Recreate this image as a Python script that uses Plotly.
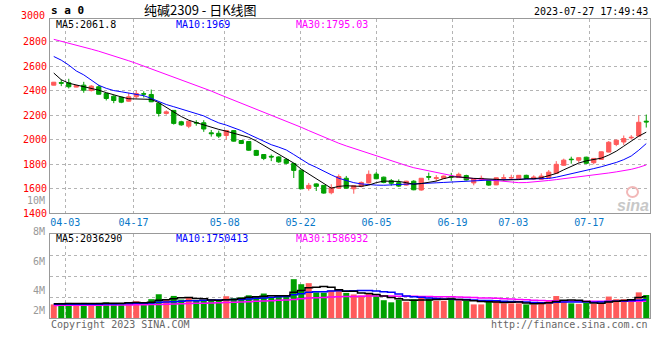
import plotly.graph_objects as go

# ---------------- data ----------------
dates = ["03-30", "03-31", "04-03", "04-04", "04-06", "04-07",
         "04-10", "04-11", "04-12", "04-13", "04-14",
         "04-17", "04-18", "04-19", "04-20", "04-21",
         "04-24", "04-25", "04-26", "04-27", "04-28",
         "05-04", "05-05",
         "05-08", "05-09", "05-10", "05-11", "05-12",
         "05-15", "05-16", "05-17", "05-18", "05-19",
         "05-22", "05-23", "05-24", "05-25", "05-26",
         "05-29", "05-30", "05-31", "06-01", "06-02",
         "06-05", "06-06", "06-07", "06-08", "06-09",
         "06-12", "06-13", "06-14", "06-15", "06-16",
         "06-19", "06-20", "06-21",
         "06-26", "06-27", "06-28", "06-29", "06-30",
         "07-03", "07-04", "07-05", "07-06", "07-07",
         "07-10", "07-11", "07-12", "07-13", "07-14",
         "07-17", "07-18", "07-19", "07-20", "07-21",
         "07-24", "07-25", "07-26", "07-27"]

opens = [2446, 2467, 2465, 2430, 2446, 2402, 2433, 2378, 2356, 2348,
         2315, 2351, 2376, 2370, 2299, 2215, 2240, 2147, 2111, 2141,
         2139, 2057, 2053, 2035, 2075, 1994, 1986, 1913, 1880, 1865,
         1860, 1840, 1807, 1752, 1603, 1640, 1628, 1568, 1605, 1686,
         1600, 1620, 1648, 1720, 1695, 1666, 1650, 1630, 1662, 1590,
         1700, 1685, 1685, 1702, 1692, 1708, 1648, 1680, 1668, 1632,
         1686, 1688, 1682, 1710, 1680, 1678, 1692, 1726, 1792, 1842,
         1833, 1858, 1813, 1840, 1900, 1962, 1982, 2016, 2030, 2152]
highs = [2472, 2492, 2498, 2447, 2473, 2446, 2449, 2382, 2364, 2352,
         2384, 2402, 2396, 2410, 2300, 2240, 2242, 2155, 2155, 2160,
         2160, 2080, 2075, 2078, 2078, 1998, 1990, 1918, 1884, 1880,
         1866, 1850, 1810, 1752, 1648, 1645, 1630, 1637, 1718, 1705,
         1630, 1660, 1750, 1737, 1700, 1680, 1677, 1665, 1670, 1688,
         1732, 1712, 1708, 1730, 1732, 1715, 1688, 1708, 1672, 1692,
         1718, 1715, 1712, 1715, 1710, 1726, 1753, 1826, 1846, 1862,
         1856, 1862, 1850, 1905, 1990, 2000, 2035, 2038, 2198, 2206]
lows = [2444, 2438, 2419, 2428, 2384, 2394, 2370, 2321, 2299, 2299,
        2312, 2337, 2345, 2308, 2190, 2205, 2124, 2115, 2095, 2115,
        2065, 2026, 2015, 2002, 1985, 1965, 1910, 1868, 1834, 1826,
        1812, 1800, 1688, 1598, 1585, 1582, 1560, 1555, 1600, 1602,
        1560, 1612, 1645, 1678, 1645, 1625, 1615, 1625, 1588, 1585,
        1670, 1660, 1680, 1665, 1688, 1668, 1628, 1665, 1625, 1630,
        1665, 1672, 1680, 1680, 1678, 1676, 1690, 1722, 1788, 1805,
        1813, 1805, 1800, 1838, 1898, 1948, 1958, 2002, 2028, 2100]
closes = [2470, 2462, 2433, 2443, 2405, 2438, 2372, 2337, 2321, 2307,
          2351, 2378, 2373, 2310, 2215, 2228, 2134, 2122, 2152, 2137,
          2088, 2050, 2030, 2076, 1989, 1970, 1915, 1873, 1848, 1860,
          1820, 1808, 1750, 1600, 1628, 1620, 1565, 1610, 1700, 1605,
          1625, 1652, 1718, 1682, 1652, 1645, 1622, 1662, 1592, 1686,
          1695, 1690, 1704, 1697, 1718, 1672, 1684, 1685, 1630, 1690,
          1690, 1692, 1710, 1685, 1696, 1704, 1736, 1800, 1834, 1838,
          1854, 1808, 1848, 1902, 1980, 1997, 2010, 2020, 2143, 2146]

ma5 = [2545, 2490, 2462, 2448, 2438, 2425, 2405, 2385, 2365, 2350,
       2335, 2333, 2334, 2330, 2303, 2262, 2227, 2190, 2160, 2140,
       2120, 2100, 2085, 2070, 2055, 2040, 2020, 1990, 1955, 1920,
       1880, 1850, 1810, 1760, 1720, 1680, 1640, 1605, 1620, 1625,
       1622, 1620, 1630, 1650, 1663, 1663, 1660, 1650, 1637, 1643,
       1650, 1663, 1683, 1697, 1697, 1690, 1685, 1683, 1677, 1677,
       1672, 1672, 1675, 1682, 1682, 1690, 1705, 1725, 1755, 1780,
       1810, 1828, 1838, 1850, 1875, 1907, 1948, 1990, 2030, 2062]
ma10 = [2680, 2650, 2610, 2562, 2530, 2490, 2445, 2420, 2402, 2392,
        2383, 2375, 2360, 2338, 2312, 2288, 2270, 2252, 2233, 2215,
        2195, 2165, 2138, 2120, 2100, 2075, 2045, 2015, 1988, 1960,
        1940, 1917, 1880, 1838, 1803, 1775, 1743, 1714, 1686, 1665,
        1650, 1640, 1632, 1630, 1629, 1630, 1634, 1638, 1640, 1645,
        1647, 1649, 1652, 1656, 1660, 1663, 1666, 1669, 1671, 1673,
        1674, 1675, 1676, 1677, 1677, 1678, 1684, 1695, 1708, 1722,
        1738, 1752, 1765, 1780, 1797, 1815, 1838, 1868, 1915, 1969]
ma30 = [2820, 2805, 2789, 2773, 2757, 2740, 2723, 2705, 2686, 2665,
        2645, 2624, 2602, 2579, 2555, 2532, 2510, 2489, 2468, 2447,
        2425, 2398, 2372, 2348, 2324, 2300, 2276, 2250, 2225, 2200,
        2177, 2153, 2128, 2102, 2075, 2048, 2020, 1995, 1972, 1950,
        1930, 1910, 1888, 1866, 1845, 1830, 1808, 1790, 1772, 1760,
        1745, 1735, 1718, 1706, 1696, 1689, 1683, 1677, 1670, 1664,
        1658, 1653, 1650, 1651, 1655, 1660, 1668, 1675, 1682, 1689,
        1696, 1704, 1712, 1721, 1729, 1738, 1748, 1759, 1775, 1795]

# volume, in millions of lots
volumes = [1.30, 1.44, 1.44, 1.28, 1.44, 1.28, 1.44, 1.50, 1.42, 1.42,
           1.50, 1.60, 1.28, 1.80, 2.27, 1.76, 2.11, 1.76, 1.95, 1.70,
           1.63, 1.63, 1.73, 2.08, 1.89, 1.98, 2.17, 2.08, 2.34, 2.01,
           2.01, 2.17, 3.71, 3.23, 3.33, 2.45, 2.42, 2.66, 2.75, 2.40,
           2.25, 2.15, 2.30, 2.10, 1.70, 1.50, 1.75, 1.55, 1.80, 2.00,
           1.85, 1.65, 1.65, 1.95, 1.70, 1.65, 1.30, 1.30, 1.70, 1.65,
           1.40, 1.40, 1.40, 1.30, 1.30, 1.50, 1.70, 2.10, 1.60, 1.40,
           1.35, 1.45, 1.35, 1.40, 2.05, 1.80, 1.80, 1.65, 2.45, 2.20]
vol_ma5 = [1.36, 1.37, 1.38, 1.38, 1.38, 1.38, 1.38, 1.40, 1.42, 1.42,
           1.45, 1.49, 1.46, 1.50, 1.69, 1.74, 1.84, 1.94, 1.97, 1.86,
           1.83, 1.73, 1.69, 1.75, 1.77, 1.86, 1.98, 2.04, 2.09, 2.12,
           2.12, 2.12, 2.45, 2.63, 2.89, 2.95, 3.00, 2.95, 2.70, 2.55,
           2.55, 2.40, 2.35, 2.25, 2.10, 1.95, 1.85, 1.72, 1.70, 1.72,
           1.72, 1.78, 1.80, 1.82, 1.78, 1.72, 1.65, 1.58, 1.55, 1.52,
           1.48, 1.50, 1.52, 1.43, 1.37, 1.38, 1.45, 1.58, 1.70, 1.72,
           1.70, 1.58, 1.43, 1.40, 1.52, 1.60, 1.68, 1.75, 1.95, 2.04]
vol_ma10 = [1.32, 1.32, 1.32, 1.32, 1.32, 1.32, 1.32, 1.33, 1.34, 1.36,
            1.38, 1.40, 1.41, 1.44, 1.50, 1.52, 1.56, 1.60, 1.64, 1.66,
            1.70, 1.72, 1.72, 1.74, 1.76, 1.78, 1.82, 1.88, 1.92, 1.98,
            2.02, 2.06, 2.22, 2.32, 2.46, 2.50, 2.52, 2.58, 2.60, 2.58,
            2.60, 2.62, 2.62, 2.58, 2.52, 2.45, 2.30, 2.10, 2.02, 1.98,
            1.92, 1.86, 1.82, 1.80, 1.78, 1.76, 1.72, 1.68, 1.68, 1.66,
            1.60, 1.58, 1.55, 1.52, 1.48, 1.45, 1.46, 1.50, 1.52, 1.52,
            1.52, 1.52, 1.51, 1.52, 1.58, 1.60, 1.62, 1.65, 1.70, 1.75]
vol_ma30 = [1.20, 1.21, 1.21, 1.22, 1.22, 1.23, 1.23, 1.24, 1.24, 1.25,
            1.25, 1.26, 1.27, 1.28, 1.30, 1.32, 1.34, 1.36, 1.38, 1.40,
            1.42, 1.44, 1.46, 1.48, 1.50, 1.53, 1.56, 1.59, 1.62, 1.66,
            1.70, 1.73, 1.78, 1.84, 1.90, 1.94, 1.97, 2.00, 2.03, 2.05,
            2.06, 2.08, 2.10, 2.10, 2.10, 2.10, 2.09, 2.08, 2.07, 2.06,
            2.05, 2.04, 2.03, 2.02, 2.00, 1.98, 1.95, 1.92, 1.90, 1.88,
            1.85, 1.82, 1.78, 1.74, 1.70, 1.68, 1.66, 1.65, 1.64, 1.63,
            1.62, 1.61, 1.60, 1.59, 1.59, 1.59, 1.59, 1.59, 1.59, 1.59]

tick_dates = ["04-03", "04-17", "05-08", "05-22", "06-05", "06-19", "07-03", "07-17"]
price_ticks = [1400, 1600, 1800, 2000, 2200, 2400, 2600, 2800]
vol_ticks = [2, 4, 6]

title_text = "纯碱2309 - 日K线图"
symbol_text = "s a 0"
time_text = "2023-07-27 17:49:43"
ma_labels = ["MA5:2061.8", "MA10:1969", "MA30:1795.03"]
vol_ma_labels = ["MA5:2036290", "MA10:1750413", "MA30:1586932"]
vol_axis_labels = ["8M", "6M", "4M", "2M"]

# ---------------- styling ----------------
RED = "#ff5a5a"
GREEN = "#00a000"
MONO = "DejaVu Sans Mono"
GRID = "#b4b4b4"
BORDER = "#999999"

W, H = 660, 360
PLOT_X0, PLOT_X1 = 50, 650      # pixels of the plotting area
PLOT_Y0, PLOT_Y1 = 19, 318
L, T = PLOT_X0, PLOT_Y0
R, B = W - PLOT_X1, H - PLOT_Y1
PW, PH = PLOT_X1 - PLOT_X0, PLOT_Y1 - PLOT_Y0


def px(x):
    return (x - PLOT_X0) / PW


def py(y):
    return (PLOT_Y1 - y) / PH


n = len(dates)
xs = list(range(n))
# date gridlines sit on an n-1 spacing grid across the plot width
tickpos = [dates.index(d) * n / (n - 1) - 0.5 for d in tick_dates]
bar_colors = [RED if c >= o else GREEN for o, c in zip(opens, closes)]

fig = go.Figure()
fig.add_trace(go.Candlestick(
    x=xs, open=opens, high=highs, low=lows, close=closes,
    increasing=dict(line=dict(color=RED, width=1), fillcolor=RED),
    decreasing=dict(line=dict(color=GREEN, width=1), fillcolor=GREEN),
    whiskerwidth=0, xaxis="x", yaxis="y", hoverinfo="skip"))
for arr, col in [(ma30, "#ff00ff"), (ma10, "#0000ff"), (ma5, "#000000")]:
    fig.add_trace(go.Scatter(x=xs, y=arr, mode="lines",
                             line=dict(color=col, width=1),
                             xaxis="x", yaxis="y", hoverinfo="skip"))

fig.add_trace(go.Bar(x=xs, y=volumes, marker=dict(color=bar_colors, line=dict(width=0)),
                     width=0.8, xaxis="x2", yaxis="y2", hoverinfo="skip"))
for arr, col in [(vol_ma30, "#ff00ff"), (vol_ma10, "#0000ff"), (vol_ma5, "#000000")]:
    fig.add_trace(go.Scatter(x=xs, y=arr, mode="lines",
                             line=dict(color=col, width=1.5, shape="hvh"),
                             xaxis="x2", yaxis="y2", hoverinfo="skip"))

main_bottom = py(213.3)
vol_top = py(234.3)

axis_common = dict(showline=True, linecolor=BORDER, linewidth=1, mirror=True,
                   gridcolor=GRID, griddash="dot", gridwidth=1, zeroline=False,
                   ticks="", fixedrange=True, automargin=False)

fig.update_layout(
    width=W, height=H,
    margin=dict(l=L, r=R, t=T, b=B, autoexpand=False),
    paper_bgcolor="white", plot_bgcolor="white",
    showlegend=False,
    boxgap=0.2,
    xaxis=dict(domain=[0, 1], range=[-0.5, n - 0.5], anchor="y",
               tickmode="array", tickvals=tickpos, ticktext=tick_dates,
               tickfont=dict(family=MONO, size=10, color="#0878c8"),
               rangeslider=dict(visible=False), **axis_common),
    yaxis=dict(domain=[main_bottom, 1], range=[1400, 2986], anchor="x",
               tickmode="array", tickvals=price_ticks,
               tickfont=dict(family=MONO, size=10, color="#ff0000"),
               **axis_common),
    xaxis2=dict(domain=[0, 1], range=[-0.5, n - 0.5], anchor="y2", matches="x",
                tickmode="array", tickvals=tickpos, showticklabels=False,
                **axis_common),
    yaxis2=dict(domain=[0, vol_top], range=[0, 8], anchor="x2",
                tickmode="array", tickvals=vol_ticks, showticklabels=False,
                **axis_common),
)

ann = []


def add(text, x, y, xanchor="left", size=10, color="#000", family=MONO):
    ann.append(dict(text=text, x=px(x), y=py(y), xref="paper", yref="paper",
                    xanchor=xanchor, yanchor="middle", showarrow=False,
                    font=dict(family=family, size=size, color=color)))


add("<b>" + symbol_text + "</b>", 49, 10, size=11)
add(title_text, 200, 9.5, xanchor="center", size=13, family="Noto Sans CJK SC")
add(time_text, 650, 11, xanchor="right", size=10)
add("3000", 47, 15, xanchor="right", color="#ff0000")
add("10M", 47, 200, xanchor="right", color="#999999")
for lbl, xx, col in zip(ma_labels, [54, 174, 294], ["#000000", "#0000ff", "#ff00ff"]):
    add(lbl, xx, 24.5, color=col)
for lbl, xx, col in zip(vol_ma_labels, [54, 174, 294], ["#000000", "#0000ff", "#ff00ff"]):
    add(lbl, xx, 238, color=col)
for lbl, yy in zip(vol_axis_labels, [231, 261, 290, 310]):
    add(lbl, 47, yy, xanchor="right", color="#999999")
add("Copyright 2023 SINA.COM", 49, 324, color="#666666")
add("http://finance.sina.com.cn", 650, 324, xanchor="right", color="#666666")
add("<b><i>sina</i></b>", 633, 205, xanchor="center", size=16, color="#c8c8c8",
    family="Liberation Sans")

fig.update_layout(annotations=ann)
# small eye logo of the watermark, drawn as a ring
fig.add_shape(type="circle", xref="paper", yref="paper",
              x0=px(627), x1=px(638), y0=py(197), y1=py(187),
              line=dict(color="#f2b8b8", width=2))
# the page body gets no margin, so the figure fills the 660x360 window exactly
fig.write_html("out.html",
               config={"displayModeBar": False, "staticPlot": True},
               post_script="document.body.style.margin='0';"
                           "document.body.style.overflow='hidden';")
